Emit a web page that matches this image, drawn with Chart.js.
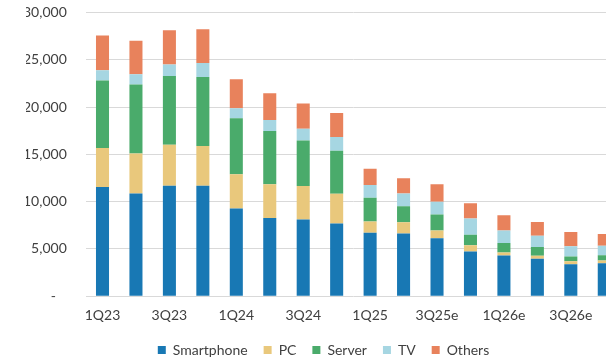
<!DOCTYPE html>
<html>
<head>
<meta charset="utf-8">
<script src="https://cdn.jsdelivr.net/npm/chart.js@4/dist/chart.umd.min.js"></script>
<style>
  html, body { margin: 0; padding: 0; background: #fff; overflow: hidden; }
  #wrap { width: 606px; height: 363px; overflow: hidden; }
  canvas { display: block; }
</style>
</head>
<body>
<div id="wrap"><canvas id="c" width="625" height="363"></canvas></div>
<script>
// Quarterly demand by application (stacked)
const quarters = ['1Q23','2Q23','3Q23','4Q23','1Q24','2Q24','3Q24','4Q24',
                  '1Q25','2Q25','3Q25e','4Q25e','1Q26e','2Q26e','3Q26e','4Q26e'];

const smartphone = [11540,10870,11680,11680, 9280, 8280, 8110, 7680, 6720, 6620, 6120, 4730, 4310, 3960, 3380, 3490];
const pc         = [ 4120, 4220, 4330, 4190, 3610, 3550, 3540, 3150, 1170, 1200,  820,  670,  320,  320,  320,  290];
const server     = [ 7160, 7300, 7270, 7300, 5920, 5640, 4820, 4540, 2510, 1700, 1700, 1110,  990,  910,  500,  560];
const tv         = [ 1060, 1070, 1210, 1490, 1060, 1170, 1240, 1460, 1360, 1350, 1340, 1700, 1320, 1210, 1070, 1000];
const others     = [ 3690, 3540, 3620, 3580, 3060, 2830, 2660, 2550, 1730, 1600, 1850, 1630, 1620, 1450, 1520, 1230];

const yTicks = [0, 5000, 10000, 15000, 20000, 25000, 30000];

const seriesNames  = ['Smartphone', 'PC', 'Server', 'TV', 'Others'];
const seriesData   = [smartphone, pc, server, tv, others];
const seriesColors = ['#1878b4', '#e9c87c', '#4aab6b', '#a6d6e2', '#e8825c'];

const FONT = 'Lato, "Liberation Sans", sans-serif';
const TEXT = '#404040';

new Chart(document.getElementById('c'), {
  type: 'bar',
  data: {
    labels: quarters,
    datasets: seriesNames.map((name, i) => ({
      label: name,
      data: seriesData[i],
      backgroundColor: seriesColors[i],
      borderWidth: 0,
      barPercentage: 0.39,
      categoryPercentage: 1.0
    }))
  },
  options: {
    responsive: false,
    animation: false,
    layout: { padding: { left: 26, right: 4, top: 0, bottom: -4 } },
    plugins: {
      legend: {
        position: 'bottom',
        labels: {
          boxWidth: 8,
          boxHeight: 8,
          padding: 16,
          color: TEXT,
          font: { family: FONT, size: 14 }
        }
      },
      tooltip: { enabled: false }
    },
    scales: {
      x: {
        stacked: true,
        grid: { display: false, drawTicks: false },
        border: { display: false },
        afterFit: (axis) => { axis.height -= 8; },
        ticks: {
          autoSkip: false,
          maxRotation: 0,
          padding: 11,
          color: TEXT,
          font: { family: FONT, size: 14 },
          callback: (v, i) => (i % 2 === 0 ? quarters[i] : '')
        }
      },
      y: {
        stacked: true,
        min: 0,
        max: 30000,
        afterBuildTicks: (axis) => { axis.ticks = yTicks.map(v => ({ value: v })); },
        afterFit: (axis) => {
          axis.width -= 22;
          axis.paddingTop = 12.5;
          axis.paddingBottom = 0;
        },
        grid: { color: '#d9d9d9', lineWidth: 1, drawTicks: false },
        border: { display: false },
        ticks: {
          padding: 19,
          color: TEXT,
          font: { family: FONT, size: 14 },
          callback: (v) => (v === 0 ? '-   ' : v.toLocaleString('en-US'))
        }
      }
    }
  }
});
</script>
</body>
</html>
